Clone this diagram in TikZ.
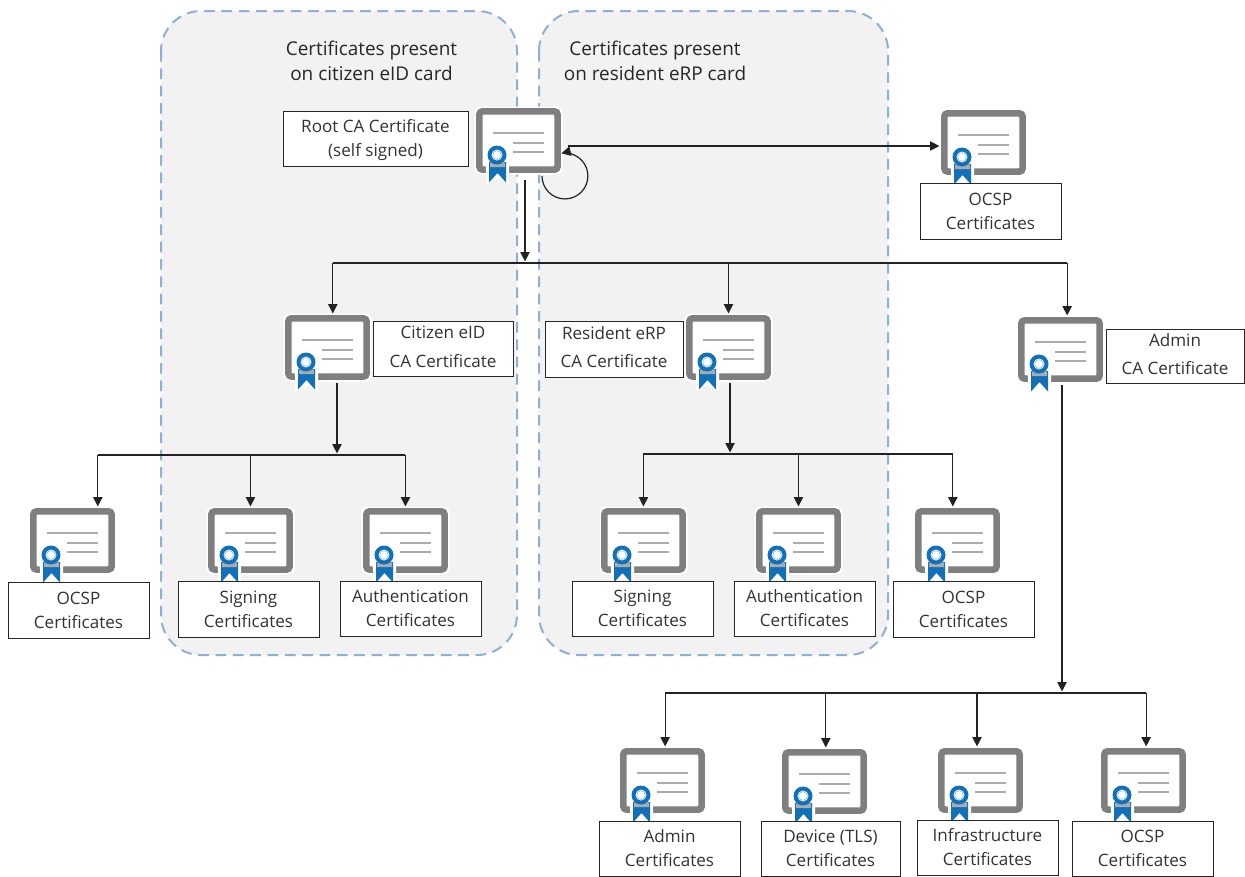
\documentclass[tikz,border=0pt]{standalone}
\usepackage{fontspec}
\setmainfont{Open Sans}
\usetikzlibrary{arrows.meta,calc}
\definecolor{panelfill}{HTML}{F2F2F2}
\definecolor{paneldash}{HTML}{8FAFD6}
\definecolor{certgrey}{HTML}{7F7F7F}
\definecolor{certline}{HTML}{ABABAB}
\definecolor{ribbon}{HTML}{1170B8}
\definecolor{conn}{HTML}{222222}
\newcommand{\upfix}{\rule[-3pt]{0pt}{3pt}}
\tikzset{
  x=0.75pt,y=-0.75pt,
  panel/.style={fill=panelfill,draw=paneldash,line width=1.5pt,dash pattern=on 8pt off 5pt,rounded corners=30pt},
  certbox/.style={draw=certgrey,fill=white,line width=5pt,rounded corners=2.5pt,minimum width=58.7pt,minimum height=43.7pt,inner sep=0pt,anchor=north west},
  labelbox/.style={draw=black!85,fill=white,line width=0.7pt,inner sep=0pt,align=center,font=\fontsize{12.8}{18}\selectfont,text=black!80},
  titletext/.style={align=center,font=\fontsize{14.2}{18.8}\selectfont,text=black!85},
  conn/.style={draw=conn,line width=0.9pt},
  tip/.style={-{Triangle[length=7pt,width=7pt]},shorten >=1.2pt},
}
% icon: name, left, top (outer edge of the frame)
\newcommand{\certicon}[3]{%
  \fill[white,rounded corners=4pt] (#2-1.5,#3-1.5) rectangle (#2+86.5,#3+66.5);
  \node[certbox] (#1) at (#2,#3) {};
  \begin{scope}[shift={(#2,#3)}]
    \draw[certline,line width=1pt] (17,25) -- (68,25) (37,35) -- (68,35) (37,44) -- (68,44);
    \fill[white,rounded corners=1pt] (10,77) -- (10,60) -- (8,47) arc[start angle=180,end angle=0,x radius=13,y radius=13] -- (33,60) -- (33,77) -- (21.5,70) -- cycle;
    \fill[ribbon] (13,54) -- (13,74.5) -- (21.5,65) -- (30,74.5) -- (30,54) -- cycle;
    \fill[certline] (14,55) arc[start angle=200,end angle=340,x radius=8,y radius=3] -- (29,59) -- (14,59) -- cycle;
    \fill[ribbon] (21,47) circle[radius=9.5];
    \fill[white] (21,47) circle[radius=5.5];
    \draw[ribbon!45!white,line width=0.5pt] (21,47) circle[radius=4.4];
  \end{scope}}
% label: name, x1, y1, x2, y2, text
\newcommand{\lbl}[6]{%
  \pgfmathsetmacro{\lw}{(#4-#2)*0.75}\pgfmathsetmacro{\lh}{(#5-#3)*0.75}%
  \node[labelbox,minimum width=\lw pt,minimum height=\lh pt] (#1) at ({(#2+#4)/2},{(#3+#5)/2}) {#6};}
\begin{document}
\begin{tikzpicture}
\useasboundingbox (0,0) rectangle (1245,876);
\fill[white] (0,0) rectangle (1245,876);
\draw[panel] (161,11) rectangle (517,655);
\draw[panel] (539,11) rectangle (888,655);
\node[titletext] (t1) at (371.5,60.5) {Certificates present\\on citizen eID card};
\node[titletext] (t2) at (655,60.5) {Certificates present\\on resident eRP card};

\coordinate (j0) at (525,263);
\coordinate (j1) at (337,455);
\coordinate (j2) at (730,454);
\coordinate (j3) at (1062,693);
\coordinate (s0) at (525,180);
\coordinate (loops) at (542,176);
\coordinate (or) at (568,146);

\certicon{root}{476}{108}
\certicon{octr}{941}{110}
\certicon{cit}{285}{315}
\certicon{res}{686}{315}
\certicon{adm}{1018}{317}
\certicon{oc1}{30}{508}
\certicon{sg1}{208}{508}
\certicon{au1}{363}{508}
\certicon{sg2}{601}{508}
\certicon{au2}{756}{508}
\certicon{oc2}{915}{508}
\certicon{ad3}{620}{748}
\certicon{dev}{782}{749}
\certicon{inf}{938}{748}
\certicon{oc3}{1101}{748}

\lbl{lroot}{283}{111}{468}{166}{\rule{0pt}{12pt}Root CA Certificate\\(self signed)}
\lbl{loctr}{920}{183}{1061}{239}{OCSP\\Certificates}
\lbl{lcit}{373}{321}{513}{376}{Citizen eID\\[3.5pt]CA Certificate\upfix}
\lbl{lres}{545}{321}{683}{377}{Resident eRP\\[3.5pt]CA Certificate\upfix}
\lbl{ladm}{1106}{329}{1244}{383}{Admin\\[3pt]CA Certificate\upfix}
\lbl{loc1}{8}{582}{149}{638}{OCSP\\Certificates}
\lbl{lsg1}{178}{581}{319}{637}{Signing\\Certificates}
\lbl{lau1}{340}{581}{481}{636}{Authentication\\Certificates}
\lbl{lsg2}{572}{581}{713}{636}{Signing\\Certificates}
\lbl{lau2}{734}{581}{875}{636}{Authentication\\Certificates}
\lbl{loc2}{893}{581}{1034}{637}{OCSP\\Certificates}
\lbl{lad3}{599}{821}{740}{876}{Admin\\Certificates}
\lbl{ldev}{761}{821}{900}{876}{Device (TLS)\\Certificates}
\lbl{linf}{917}{820}{1058}{875}{Infrastructure\\Certificates}
\lbl{loc3}{1072}{821}{1213}{876}{OCSP\\Certificates}

% root connectors
\draw[conn,tip] (s0) -- (j0);
\draw[conn,tip] (or) -- (or -| octr.west);
\draw[conn,tip] (loops) arc[start angle=180,end angle=463,radius=17.2pt];
\draw[conn,tip] (j0 -| cit.north) ++(4pt,0) coordinate (c1) -- (c1 |- cit.north);
\draw[conn,tip] (j0 -| res.north) coordinate (c2) -- (c2 |- res.north);
\draw[conn,tip] (j0 -| adm.north) ++(5pt,0) coordinate (c3) -- (c3 |- adm.north);
\draw[conn] (c1) -- (c3);
% citizen
\draw[conn,tip] (cit.south -| j1) ++(0,3) -- (j1);
\draw[conn,tip] (j1 -| oc1.north) ++(19pt,0) coordinate (d1) -- (d1 |- oc1.north);
\draw[conn,tip] (j1 -| sg1.north) coordinate (d2) -- (d2 |- sg1.north);
\draw[conn,tip] (j1 -| au1.north) coordinate (d3) -- (d3 |- au1.north);
\draw[conn] (d1) -- (d3);
% resident
\draw[conn,tip] (res.south -| j2) ++(0,3) -- (j2);
\draw[conn,tip] (j2 -| sg2.north) coordinate (e1) -- (e1 |- sg2.north);
\draw[conn,tip] (j2 -| au2.north) coordinate (e2) -- (e2 |- au2.north);
\draw[conn,tip] (j2 -| oc2.north) ++(-3.5pt,0) coordinate (e3) -- (e3 |- oc2.north);
\draw[conn] (e1) -- (e3);
% admin
\draw[conn,tip] (adm.south -| j3) ++(0,3) -- (j3);
\draw[conn,tip] (j3 -| ad3.north) ++(2pt,0) coordinate (f1) -- (f1 |- ad3.north);
\draw[conn,tip] (j3 -| dev.north) ++(1pt,0) coordinate (f2) -- (f2 |- dev.north);
\draw[conn,tip] (j3 -| inf.north) ++(-2.6pt,0) coordinate (f3) -- (f3 |- inf.north);
\draw[conn,tip] (j3 -| oc3.north) ++(2pt,0) coordinate (f4) -- (f4 |- oc3.north);
\draw[conn] (f1) -- (f4);
\end{tikzpicture}
\end{document}
